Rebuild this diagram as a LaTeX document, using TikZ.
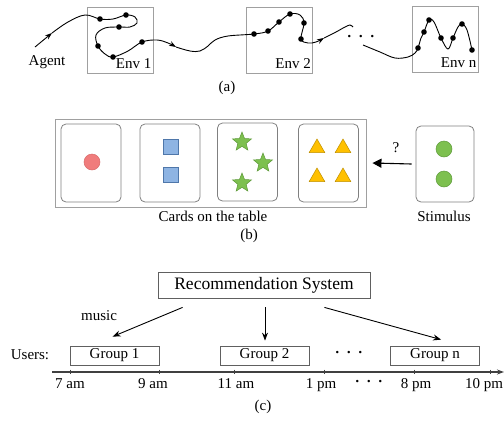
\documentclass[tikz,border=0pt]{standalone}
\usepackage{fontspec}
\setmainfont{Liberation Serif}
\usetikzlibrary{arrows.meta,shapes.geometric,calc}
\definecolor{boxgray}{HTML}{A0A0A0}
\definecolor{cardgray}{HTML}{808080}
\definecolor{darkbox}{HTML}{606060}
\definecolor{redfill}{HTML}{F07C7C}
\definecolor{rededge}{HTML}{D86A6A}
\definecolor{bluefill}{HTML}{8EB4E3}
\definecolor{blueedge}{HTML}{4F77AA}
\definecolor{greenfill}{HTML}{7DC04F}
\definecolor{greenedge}{HTML}{5E9A3A}
\definecolor{yellowfill}{HTML}{FFC000}
\definecolor{yellowedge}{HTML}{BF9000}
\definecolor{axiscol}{HTML}{404040}
\newcommand{\mydots}{\bfseries ·\hspace{6.5pt}·\hspace{6.5pt}·}
\tikzset{
  envbox/.style={draw=boxgray, line width=0.9pt, minimum width=66pt, minimum height=66pt, inner sep=0pt},
  traj/.style={line width=0.9pt, black},
  trajtip/.style={traj, -{Stealth[length=7pt,width=5pt]}},
  dotpt/.style={circle, fill=black, inner sep=0pt, minimum size=5.6pt},
  tablebox/.style={draw=boxgray, line width=0.9pt, inner sep=0pt},
  card/.style={draw=cardgray, line width=0.8pt, rounded corners=5pt, minimum width=60pt, minimum height=78pt, inner sep=0pt},
  redc/.style={circle, fill=redfill, draw=rededge, line width=0.5pt, minimum size=16pt, inner sep=0pt},
  bluesq/.style={rectangle, fill=bluefill, draw=blueedge, line width=0.6pt, minimum size=15pt, inner sep=0pt},
  greenstar/.style={star, star points=5, star point ratio=2.3, fill=greenfill, draw=greenedge, line width=0.5pt, minimum size=20pt, inner sep=0pt},
  yellowtri/.style={regular polygon, regular polygon sides=3, fill=yellowfill, draw=yellowedge, line width=0.5pt, minimum size=18pt, inner sep=0pt},
  greenc/.style={circle, fill=greenfill, draw=greenedge, line width=0.5pt, minimum size=16pt, inner sep=0pt},
  bigarrow/.style={line width=1.1pt, -{Triangle[length=9pt,width=9pt]}},
  recbox/.style={draw=darkbox, line width=0.8pt, minimum width=212pt, minimum height=26pt, inner sep=0pt, font=\fontsize{17.5}{20}\selectfont},
  groupbox/.style={draw=darkbox, line width=0.8pt, minimum width=89pt, minimum height=19pt, inner sep=0pt},
  recarrow/.style={line width=0.9pt, -{Stealth[length=8pt,width=6pt]}},
  axis/.style={draw=axiscol, line width=1.3pt, -{Stealth[length=7pt,width=5pt]}},
  tick/.style={draw=axiscol, line width=0.8pt},
  ellip/.style={anchor=base, inner sep=0pt},
}
\begin{document}
\begin{tikzpicture}[x=1pt,y=-1pt, font=\fontsize{15}{18}\selectfont]
\useasboundingbox (0,0) rectangle (504,421);

% ---------- (a) ----------
\node[envbox] (e1) at (120,40) {};
\node[envbox] (e2) at (279.5,40) {};
\node[envbox] (en) at (445,39) {};
\node[anchor=base east, inner sep=0pt] (l1) at ($(e1.south east)+(-2,-5)$) {Env 1};
\node[anchor=base east, inner sep=0pt] (l2) at ($(e2.south east)+(-2,-5)$) {Env 2};
\node[anchor=base east, inner sep=0pt] (ln) at ($(en.south east)+(-2,-5)$) {Env n};
\node (agent) at (47,62) {Agent};
\node (capa) at (227,88) {(a)};

\coordinate (s0) at (35,47);
\coordinate (s1) at (52,33);

\draw[trajtip] (s0) -- (s1);
\draw[trajtip] plot[smooth, tension=0.6] coordinates {(52,33) (68,22) (85,15) (100,19) (113,19) (126,15) (135,17) (137,23) (130,27) (119,27) (105,28) (96,35) (98,46) (105,54) (113,57) (128,51) (142,42) (157,40) (168,43) (176,47)};
\draw[trajtip] plot[smooth, tension=0.6] coordinates {(176,47) (190,51) (200,51) (208,46) (215,40) (228,36) (254,34) (268,31) (279,22) (290,14) (300,15) (304,23) (301,39) (308,43) (316,42) (324,38)};
\draw[traj] plot[smooth, tension=0.6] coordinates {(324,38) (336,32) (345,27) (350,25) (353,27)};
\draw[traj] plot[smooth, tension=0.6] coordinates {(363,45) (380,52) (395,58) (408,57) (415,53) (418,48) (421,38) (424,32) (429,20) (434,22) (441,38) (448,49) (453,38) (458,27) (462,24) (467,30) (472,50)};

\foreach \p/\n in {(100,19)/a1,(126,15)/a2,(119,27)/a3,(98,46)/a4,(113,57)/a5,(142,42)/a6,
  (254,34)/b1,(268,31)/b2,(279,22)/b3,(290,14)/b4,(304,23)/b5,(301,39)/b6,
  (418,48)/c1,(424,32)/c2,(429,20)/c3,(441,38)/c4,(453,38)/c5,(462,24)/c6,(472,50)/c7}
  \node[dotpt] (\n) at \p {};
\node[ellip] (dotsa) at (361,41.5) {\mydots};

% ---------- (b) ----------
\node[tablebox, minimum width=311pt, minimum height=88pt] (table) at (210.5,163) {};
\node[card] (k1) at (91,163) {};
\node[card] (k2) at (170,163) {};
\node[card] (k3) at (247.5,162) {};
\node[card] (k4) at (328.5,163) {};
\node[card, minimum width=58pt, minimum height=76pt] (stim) at (445,164) {};

\node[redc] (r1) at (92,162) {};
\node[bluesq] (q1) at (171,147) {};
\node[bluesq] (q2) at (171,175) {};
\node[greenstar] (g1) at (242,142) {};
\node[greenstar] (g2) at (263,163) {};
\node[greenstar] (g3) at (242,183) {};
\node[yellowtri] (t1) at (317,148) {};
\node[yellowtri] (t2) at (343,148) {};
\node[yellowtri] (t3) at (317,177) {};
\node[yellowtri] (t4) at (343,177) {};
\node[greenc] (sc1) at (444,149) {};
\node[greenc] (sc2) at (444,179) {};

\draw[bigarrow] ($(stim.west)+(-4,0)$) -- ($(table.east)+(6,0)$);
\node (qm) at (396,148) {?};
\node (cards) at (213,216) {Cards on the table};
\node (stimt) at (444,216) {Stimulus};
\node (capb) at (249,236) {(b)};

% ---------- (c) ----------
\node[recbox] (rec) at (264,285) {Recommendation System};
\node[groupbox] (gr1) at (114.5,355.5) {Group 1};
\node[groupbox] (gr2) at (264.5,355.5) {Group 2};
\node[groupbox] (grn) at (435,355.5) {Group n};
\node (users) at (30,355) {Users:};
\node (music) at (99,316) {music};
\node[ellip] (dotsg) at (349,357.5) {\mydots};

\draw[recarrow] ($(rec.south west)+(25,9)$) -- ($(gr1.north west)+(43,-9)$);
\draw[recarrow] ($(rec.south)+(1,9)$) -- ($(gr2.north)+(0.5,-5)$);
\draw[recarrow] ($(rec.south east)+(-46,9)$) -- ($(grn.north west)+(51,-6)$);

\coordinate (ax0) at (52,372);
\coordinate (ax1) at (504,372);
\draw[axis] (ax0) -- (ax1);
\foreach \x/\t/\lx in {70/7 am/70, 159/9 am/153, 234/11 am/236, 324/1 pm/321, 414/8 pm/416, 490/10 pm/484}
{
  \draw[tick] (\x,369.5) -- (\x,374);
  \node[anchor=base] at (\lx,388) {\t};
}
\node[ellip] (dotsx) at (369,386.5) {\mydots};
\node (capc) at (263,407) {(c)};
\end{tikzpicture}
\end{document}
